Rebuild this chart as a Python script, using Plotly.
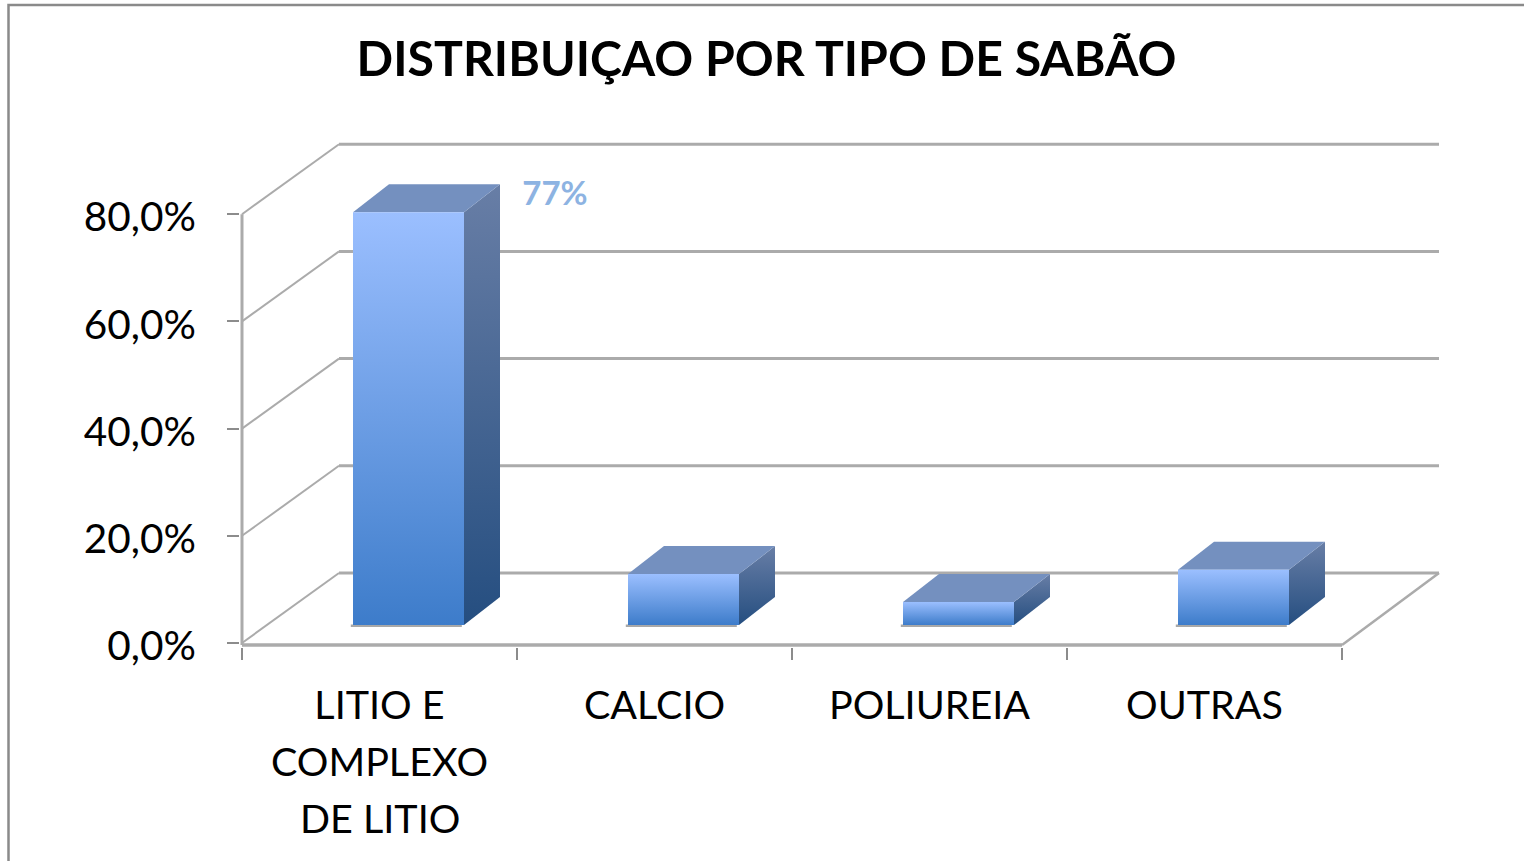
import plotly.graph_objects as go

category_lines = [["LITIO E", "COMPLEXO", "DE LITIO"], ["CALCIO"], ["POLIUREIA"], ["OUTRAS"]]
values = [77.0, 9.5, 4.3, 10.3]
y_ticks = [0, 20, 40, 60, 80]
y_labels = ["0,0%", "20,0%", "40,0%", "60,0%", "80,0%"]
data_label = "77%"
title = "DISTRIBUIÇAO POR TIPO DE SABÃO"

W, H = 1524, 861
L, R, T, B = 240, 1442, 140, 647      # plot rectangle in page pixels
PX_CAT = 275.0
PX_PCT = 5.36
ZERO_PX = 643
AXIS_LEFT_PX, AXIS_BOTTOM_PX = 242, 645
x0 = -0.5
xe = x0 + 4
xr = [x0 - (AXIS_LEFT_PX - L) / PX_CAT, x0 + (R - AXIS_LEFT_PX) / PX_CAT]
yr = [-(B - ZERO_PX) / PX_PCT, (ZERO_PX - T) / PX_PCT]
floor = -(AXIS_BOTTOM_PX - ZERO_PX) / PX_PCT

# oblique projection of the chart depth, in axis units
wall_dx, wall_dy = 97 / PX_CAT, 70 / PX_PCT
side_dx, side_dy = 36 / PX_CAT, 28 / PX_PCT
bar_off, bar_half = 29 / PX_CAT, 55.5 / PX_CAT
bar_base = 18 / PX_PCT

GRID = "#ABABAB"
fig = go.Figure()


def line(x, y, width=2.5, color=GRID):
    fig.add_trace(go.Scatter(x=x, y=y, mode="lines", hoverinfo="skip",
                             line=dict(color=color, width=width)))


def face(x, y, c_bottom, c_top):
    fig.add_trace(go.Scatter(
        x=x + x[:1], y=y + y[:1], mode="lines", fill="toself", hoverinfo="skip",
        line=dict(width=0, color=c_bottom),
        fillgradient=dict(type="vertical", colorscale=[[0, c_bottom], [1, c_top]]),
    ))


# wall gridlines, floor outline, and front axes
for v in y_ticks:
    line([x0, x0 + wall_dx], [v, v + wall_dy], width=2)
    line([x0 + wall_dx, xe + wall_dx], [v + wall_dy, v + wall_dy], width=3)
line([xe, xe + wall_dx], [floor, wall_dy], width=2.5)
line([x0, x0], [floor, y_ticks[-1]], width=3)
line([x0, xe], [floor, floor], width=3.5)

# bars: ground shadow, front, side and top faces
for i, v in enumerate(values):
    xl = i + bar_off - bar_half
    xr_ = i + bar_off + bar_half
    yb = bar_base
    yt = bar_base + v
    line([xl - 0.008, xr_ - 0.008], [yb - 0.15, yb - 0.15], width=2.5, color="#A8A8A8")
    face([xr_, xr_ + side_dx, xr_ + side_dx, xr_],
         [yb, yb + side_dy, yt + side_dy, yt], "#254E80", "#687EA6")
    face([xl, xr_ + 0, xr_ + side_dx, xl + side_dx],
         [yt, yt, yt + side_dy, yt + side_dy], "#7490BF", "#7490BF")
    face([xl, xr_, xr_, xl], [yb, yb, yt, yt], "#3D7CCA", "#9BBFFF")

# data label of the first bar
fig.add_trace(go.Scatter(
    x=[0 + 0.638], y=[values[0] + 6.2], mode="text", text=[data_label], hoverinfo="skip",
    textposition="middle center", cliponaxis=False,
    textfont=dict(family="Lato", size=33, color="#8DB3E2", weight="bold"),
))

# carries the category axis
fig.add_trace(go.Scatter(x=list(range(len(values))), y=values, xaxis="x2", mode="markers",
                         marker=dict(opacity=0), hoverinfo="skip"))

tick_x = [x0 + i for i in range(5)]
LABEL_SIZE = 39.5
fig.update_layout(
    width=W, height=H, autosize=False,
    margin=dict(l=L, r=W - R, t=T, b=H - B),
    paper_bgcolor="white", plot_bgcolor="white", showlegend=False,
    font=dict(family="Lato", color="black"),
    title=dict(text=f"<b>{title}</b>", font=dict(family="Lato", size=48.2, color="black"),
               x=766.5 / W, xanchor="center", xref="container",
               y=1 - 59 / H, yanchor="middle", yref="container"),
    xaxis=dict(range=xr, tickmode="array", tickvals=tick_x, ticktext=[""] * 5, ticks="outside",
               ticklen=12, tickwidth=2, tickcolor="#8C8C8C", showgrid=False, zeroline=False,
               showline=False),
    xaxis2=dict(range=xr, overlaying="x", side="bottom", anchor="y", tickmode="array",
                tickvals=list(range(len(category_lines))),
                ticktext=[c[0] for c in category_lines], ticks="outside",
                ticklen=24, tickcolor="rgba(0,0,0,0)", tickfont=dict(family="Lato", size=LABEL_SIZE),
                tickangle=0, showgrid=False, zeroline=False, showline=False),
    yaxis=dict(range=yr, tickmode="array", tickvals=y_ticks, ticktext=y_labels, ticks="outside",
               ticklen=12, tickwidth=2, tickcolor="#8C8C8C", showgrid=False, zeroline=False,
               showline=False, ticklabelstandoff=23, ticklabelshift=3,
               tickfont=dict(family="Lato", size=40.5)),
)

px = lambda p: (p - L) / (R - L)
py = lambda p: (B - p) / (B - T)

# continuation lines of the wrapped category label (57 px line pitch)
for i, lines in enumerate(category_lines):
    for n, text in enumerate(lines[1:], start=1):
        fig.add_annotation(x=i, xref="x", y=py(703.5 + 57 * n), yref="paper", text=text, showarrow=False,
                           xanchor="center", yanchor="middle", font=dict(family="Lato", size=LABEL_SIZE))

# chart-area border, open at the right and bottom as in the crop
fig.add_shape(type="path", xref="paper", yref="paper",
              path=f"M {px(8.5)} {py(H)} L {px(8.5)} {py(5)} L {px(W)} {py(5)}",
              line=dict(color="#8A8A8A", width=2.5))

fig.write_html("out.html", post_script="document.body.style.margin='0';", config=dict(displayModeBar=False))
